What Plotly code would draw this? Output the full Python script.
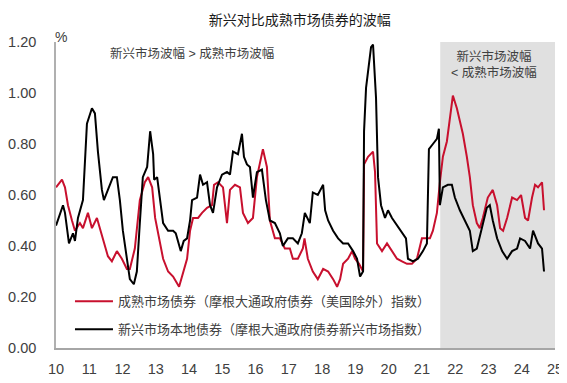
import plotly.graph_objects as go

# Emerging market local bonds (black)
em_x = [2010.00, 2010.21, 2010.27, 2010.39, 2010.51, 2010.57, 2010.66, 2010.78, 2010.81, 2010.93,
        2011.08, 2011.17, 2011.26, 2011.38, 2011.44, 2011.56, 2011.71, 2011.83, 2011.92, 2012.01,
        2012.13, 2012.22, 2012.34, 2012.43, 2012.52, 2012.61, 2012.74, 2012.83, 2012.92, 2012.95,
        2013.04, 2013.13, 2013.22, 2013.37, 2013.52, 2013.60, 2013.75, 2013.84, 2013.94, 2014.03,
        2014.09, 2014.24, 2014.33, 2014.42, 2014.54, 2014.63, 2014.72, 2014.84, 2014.99, 2015.14,
        2015.23, 2015.32, 2015.47, 2015.59, 2015.65, 2015.74, 2015.83, 2015.92, 2016.04, 2016.19,
        2016.31, 2016.43, 2016.58, 2016.73, 2016.82, 2016.97, 2017.12, 2017.27, 2017.39, 2017.48,
        2017.63, 2017.72, 2017.87, 2018.03, 2018.09, 2018.18, 2018.33, 2018.48, 2018.63, 2018.78,
        2018.93, 2019.05, 2019.14, 2019.23, 2019.26, 2019.32, 2019.38, 2019.47, 2019.53, 2019.62,
        2019.68, 2019.77, 2019.89, 2019.98, 2020.10, 2020.25, 2020.40, 2020.52, 2020.58, 2020.73,
        2020.88, 2021.03, 2021.15, 2021.21, 2021.33, 2021.45, 2021.51, 2021.54, 2021.63, 2021.78,
        2021.90, 2021.99, 2022.14, 2022.29, 2022.44, 2022.53, 2022.65, 2022.80, 2022.95, 2023.04,
        2023.13, 2023.26, 2023.41, 2023.56, 2023.71, 2023.86, 2023.95, 2024.10, 2024.25, 2024.34,
        2024.49, 2024.61, 2024.67]
em_v = [0.48, 0.56, 0.53, 0.41, 0.45, 0.42, 0.51, 0.56, 0.58, 0.88,
        0.94, 0.92, 0.77, 0.62, 0.58, 0.62, 0.67, 0.67, 0.58, 0.46,
        0.34, 0.27, 0.25, 0.30, 0.49, 0.67, 0.71, 0.85, 0.76, 0.66,
        0.67, 0.58, 0.49, 0.46, 0.46, 0.45, 0.38, 0.42, 0.43, 0.50,
        0.58, 0.59, 0.68, 0.64, 0.65, 0.56, 0.53, 0.63, 0.68, 0.69,
        0.68, 0.77, 0.76, 0.84, 0.75, 0.72, 0.71, 0.59, 0.69, 0.70,
        0.58, 0.50, 0.49, 0.45, 0.40, 0.43, 0.43, 0.41, 0.45, 0.53,
        0.49, 0.61, 0.60, 0.64, 0.54, 0.50, 0.46, 0.43, 0.41, 0.41,
        0.38, 0.35, 0.28, 0.30, 0.85, 1.02, 1.09, 1.18, 1.19, 0.98,
        0.67, 0.56, 0.51, 0.54, 0.51, 0.48, 0.45, 0.43, 0.35, 0.34,
        0.35, 0.38, 0.41, 0.78, 0.80, 0.82, 0.86, 0.56, 0.63, 0.64,
        0.64, 0.59, 0.54, 0.50, 0.46, 0.38, 0.39, 0.47, 0.55, 0.56,
        0.50, 0.43, 0.38, 0.35, 0.38, 0.39, 0.43, 0.42, 0.39, 0.46,
        0.41, 0.39, 0.30]

# Developed market bonds (red)
dm_x = [2010.00, 2010.18, 2010.27, 2010.36, 2010.48, 2010.57, 2010.72, 2010.81, 2010.96, 2011.08,
        2011.23, 2011.32, 2011.47, 2011.56, 2011.68, 2011.83, 2011.98, 2012.13, 2012.22, 2012.37,
        2012.52, 2012.67, 2012.77, 2012.89, 2012.98, 2013.07, 2013.22, 2013.37, 2013.52, 2013.70,
        2013.82, 2013.94, 2014.03, 2014.12, 2014.27, 2014.39, 2014.54, 2014.69, 2014.75, 2014.87,
        2015.02, 2015.14, 2015.23, 2015.38, 2015.53, 2015.62, 2015.77, 2015.92, 2016.04, 2016.16,
        2016.22, 2016.34, 2016.43, 2016.58, 2016.73, 2016.88, 2017.03, 2017.12, 2017.27, 2017.42,
        2017.47, 2017.57, 2017.72, 2017.87, 2018.03, 2018.18, 2018.33, 2018.45, 2018.54, 2018.63,
        2018.78, 2018.90, 2018.99, 2019.11, 2019.23, 2019.26, 2019.38, 2019.53, 2019.59, 2019.65,
        2019.80, 2019.95, 2020.10, 2020.25, 2020.40, 2020.55, 2020.70, 2020.85, 2021.00, 2021.15,
        2021.24, 2021.33, 2021.45, 2021.54, 2021.63, 2021.75, 2021.84, 2021.93, 2022.05, 2022.14,
        2022.23, 2022.35, 2022.44, 2022.53, 2022.65, 2022.74, 2022.83, 2022.98, 2023.13, 2023.26,
        2023.35, 2023.44, 2023.56, 2023.71, 2023.86, 2023.98, 2024.10, 2024.19, 2024.31, 2024.40,
        2024.49, 2024.61, 2024.67]
dm_v = [0.63, 0.66, 0.63, 0.56, 0.50, 0.46, 0.49, 0.47, 0.53, 0.47,
        0.51, 0.47, 0.41, 0.36, 0.34, 0.38, 0.35, 0.31, 0.31, 0.39,
        0.58, 0.65, 0.67, 0.63, 0.51, 0.45, 0.35, 0.30, 0.28, 0.24,
        0.30, 0.35, 0.46, 0.51, 0.51, 0.53, 0.55, 0.56, 0.64, 0.65,
        0.63, 0.49, 0.62, 0.64, 0.63, 0.53, 0.49, 0.51, 0.67, 0.75,
        0.78, 0.71, 0.50, 0.43, 0.43, 0.39, 0.39, 0.35, 0.35, 0.39,
        0.43, 0.35, 0.30, 0.27, 0.31, 0.30, 0.27, 0.24, 0.27, 0.33,
        0.35, 0.38, 0.35, 0.33, 0.30, 0.72, 0.75, 0.77, 0.69, 0.41,
        0.38, 0.41, 0.38, 0.35, 0.34, 0.33, 0.33, 0.35, 0.43, 0.43,
        0.43, 0.46, 0.53, 0.65, 0.75, 0.81, 0.90, 0.99, 0.94, 0.89,
        0.84, 0.75, 0.67, 0.56, 0.49, 0.47, 0.51, 0.59, 0.62, 0.56,
        0.47, 0.46, 0.51, 0.59, 0.58, 0.60, 0.51, 0.50, 0.59, 0.64,
        0.63, 0.65, 0.54]

year_ticks = list(range(2010, 2026))
year_labels = [str(y)[2:] for y in year_ticks]
y_ticks = [0.0, 0.2, 0.4, 0.6, 0.8, 1.0, 1.2]

shade_start = 2021.55
shade_end = 2025.0

dm_name = "成熟市场债券（摩根大通政府债券（美国除外）指数）"
em_name = "新兴市场本地债券（摩根大通政府债券新兴市场指数）"

FONT = "Liberation Sans, Noto Sans CJK SC, sans-serif"

fig = go.Figure()
fig.add_trace(go.Scatter(x=dm_x, y=dm_v, mode="lines", name=dm_name,
                         line=dict(color="#c8102e", width=2), legendgroup="a"))
fig.add_trace(go.Scatter(x=em_x, y=em_v, mode="lines", name=em_name,
                         line=dict(color="#000000", width=2), legendgroup="b"))

fig.add_shape(type="rect", xref="x", yref="y", x0=shade_start, x1=shade_end + 0.05,
              y0=0, y1=1.2, fillcolor="#e0e0e0", line=dict(width=0), layer="below")

# The page body adds an 8px offset, so the figure is 8px smaller and margins compensate.
fig.update_layout(
    width=559, height=375,
    margin=dict(l=48, r=12, t=34, b=35, autoexpand=False),
    paper_bgcolor="white", plot_bgcolor="white",
    font=dict(family=FONT, color="#404040", size=14),
    title=dict(text="新兴对比成熟市场债券的波幅", x=0.522, xanchor="center",
               y=0.968, yanchor="middle", font=dict(size=14, color="#1a1a1a", family=FONT)),
    showlegend=True,
    legend=dict(x=0.028, y=0.2015, xanchor="left", yanchor="top", bgcolor="rgba(0,0,0,0)",
                font=dict(size=13, color="#404040", family=FONT), itemwidth=38,
                traceorder="grouped", tracegroupgap=8),
    xaxis=dict(range=[2010, 2025], tickmode="array", tickvals=year_ticks, ticktext=year_labels,
               showgrid=False, zeroline=False, showline=True, linecolor="#a6a6a6", linewidth=1.5,
               automargin=False,
               ticks="", ticklabelstandoff=7, tickfont=dict(size=14.5, color="#404040")),
    yaxis=dict(range=[0, 1.2], tickmode="array", tickvals=y_ticks, tickformat=".2f",
               showgrid=False, zeroline=False, showline=True, linecolor="#b0b0b0", linewidth=1.5,
               automargin=False,
               ticks="", ticklabelstandoff=15, tickfont=dict(size=14.5, color="#404040")),
)

fig.add_annotation(text="%", xref="paper", yref="paper", x=-0.006, y=1.049,
                   showarrow=False, font=dict(size=14, color="#404040"))
fig.add_annotation(text="新兴市场波幅 &gt; 成熟市场波幅", xref="paper", yref="paper",
                   x=0.104, y=0.961, xanchor="left", yanchor="middle", showarrow=False,
                   font=dict(size=12.5, color="#404040"))
fig.add_annotation(text="新兴市场波幅<br>&lt; 成熟市场波幅", xref="x", yref="paper",
                   x=2023.17, y=0.925, xanchor="center", yanchor="middle", showarrow=False,
                   font=dict(size=12.5, color="#404040"))

fig.write_html("out.html")
